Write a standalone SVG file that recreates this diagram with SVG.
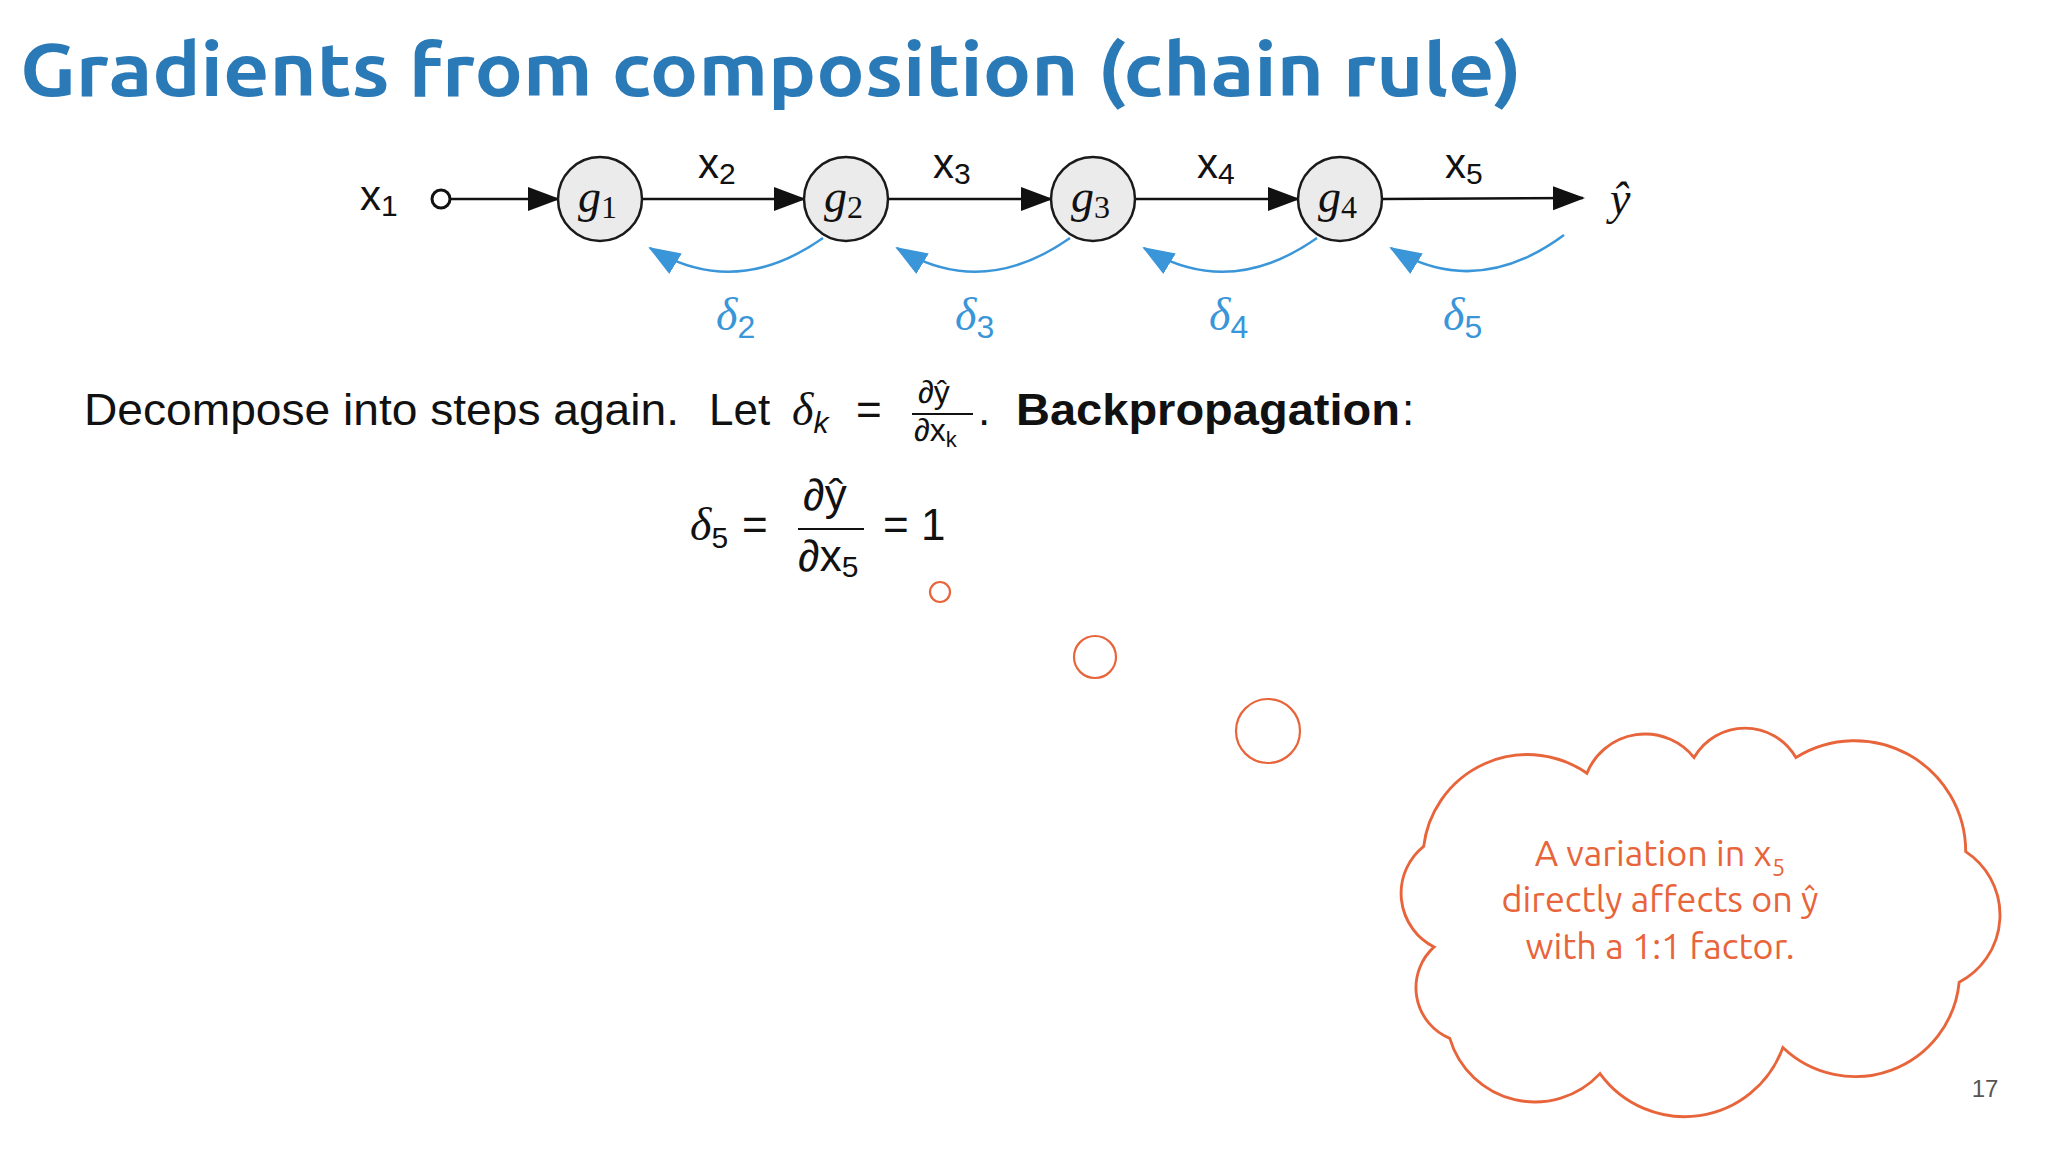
<svg xmlns="http://www.w3.org/2000/svg" width="2048" height="1152" viewBox="0 0 2048 1152">
<style>
.t{font-family:"Liberation Sans","DejaVu Sans",sans-serif;fill:#111}
.g{font-family:"Liberation Serif",serif;font-style:italic;font-size:46px;fill:#111}
.node{fill:#ebebeb;stroke:#1a1a1a;stroke-width:2.5}
.fw{stroke:#111;stroke-width:2.5;fill:none}
.bw{stroke:#3a96d8;stroke-width:2.5;fill:none}
.d{font-family:"Liberation Serif",serif;font-style:italic;font-size:46px;fill:#3a96d8}
.o{fill:none;stroke:#e8643a;stroke-width:2.2}
</style>
<defs>
<marker id="ab" markerUnits="userSpaceOnUse" markerWidth="34" markerHeight="28" refX="30" refY="12" orient="auto"><path d="M0,0 L32,12 L0,24 Z" fill="#111"/></marker>
<marker id="ablue" markerUnits="userSpaceOnUse" markerWidth="34" markerHeight="28" refX="30" refY="12" orient="auto"><path d="M0,0 L32,12 L0,24 Z" fill="#3a96d8"/></marker>
</defs>
<rect width="2048" height="1152" fill="#fff"/>
<text x="20" y="96" font-family="Ubuntu,'Open Sans',sans-serif" font-weight="700" font-size="74" fill="#2a7ab8" textLength="1502" lengthAdjust="spacingAndGlyphs">Gradients from composition (chain rule)</text>

<g id="connectors">
<circle cx="441" cy="199" r="9" fill="#fff" stroke="#111" stroke-width="3"/>
<line class="fw" x1="450" y1="199" x2="558" y2="199" marker-end="url(#ab)"/>
<line class="fw" x1="642" y1="199" x2="804" y2="199" marker-end="url(#ab)"/>
<line class="fw" x1="888" y1="199" x2="1051" y2="199" marker-end="url(#ab)"/>
<line class="fw" x1="1135" y1="199" x2="1298" y2="199" marker-end="url(#ab)"/>
<line class="fw" x1="1382" y1="199" x2="1583" y2="198" marker-end="url(#ab)"/>
<path class="bw" d="M823,238 Q735,300 650,248" marker-end="url(#ablue)"/>
<path class="bw" d="M1070,238 Q982,300 897,248" marker-end="url(#ablue)"/>
<path class="bw" d="M1317,238 Q1229,300 1144,248" marker-end="url(#ablue)"/>
<path class="bw" d="M1564,235 Q1476,300 1391,248" marker-end="url(#ablue)"/>
</g>

<g id="x1"><text class="t" x="360" y="210" font-size="42">x<tspan font-size="30" dy="6">1</tspan></text></g>
<g id="g1"><circle class="node" cx="600" cy="199" r="42"/><text class="g" x="578" y="212">g<tspan font-style="normal" font-size="32" dy="6">1</tspan></text></g>
<g id="g2"><circle class="node" cx="846" cy="199" r="42"/><text class="g" x="824" y="212">g<tspan font-style="normal" font-size="32" dy="6">2</tspan></text></g>
<g id="g3"><circle class="node" cx="1093" cy="199" r="42"/><text class="g" x="1071" y="212">g<tspan font-style="normal" font-size="32" dy="6">3</tspan></text></g>
<g id="g4"><circle class="node" cx="1340" cy="199" r="42"/><text class="g" x="1318" y="212">g<tspan font-style="normal" font-size="32" dy="6">4</tspan></text></g>
<g id="yhat"><text class="g" x="1610" y="214">ŷ</text></g>

<g id="labels">
<text class="t" x="698" y="178" font-size="42">x<tspan font-size="30" dy="6">2</tspan></text>
<text class="t" x="933" y="178" font-size="42">x<tspan font-size="30" dy="6">3</tspan></text>
<text class="t" x="1197" y="178" font-size="42">x<tspan font-size="30" dy="6">4</tspan></text>
<text class="t" x="1445" y="178" font-size="42">x<tspan font-size="30" dy="6">5</tspan></text>
<text class="d" x="716" y="330">δ<tspan font-style="normal" font-family="Liberation Sans" font-size="32" dy="8">2</tspan></text>
<text class="d" x="955" y="330">δ<tspan font-style="normal" font-family="Liberation Sans" font-size="32" dy="8">3</tspan></text>
<text class="d" x="1209" y="330">δ<tspan font-style="normal" font-family="Liberation Sans" font-size="32" dy="8">4</tspan></text>
<text class="d" x="1443" y="330">δ<tspan font-style="normal" font-family="Liberation Sans" font-size="32" dy="8">5</tspan></text>
</g>

<g id="body">
<text class="t" x="84" y="425" font-size="44" textLength="595" lengthAdjust="spacingAndGlyphs">Decompose into steps again.</text>
<text class="t" x="709" y="425" font-size="44">Let</text>
<text x="792" y="425" font-family="Liberation Serif" font-style="italic" font-size="46" fill="#111">δ<tspan font-family="Liberation Sans" font-size="30" dy="8">k</tspan></text>
<text class="t" x="856" y="425" font-size="44">=</text>
<text class="t" x="918" y="403" font-size="32">∂ŷ</text>
<line x1="912" y1="414" x2="973" y2="414" stroke="#111" stroke-width="2"/>
<text class="t" x="914" y="441" font-size="32">∂x<tspan font-size="22" dy="6">k</tspan></text>
<text class="t" x="978" y="425" font-size="44">.</text>
<text class="t" x="1016" y="425" font-size="44" font-weight="700" textLength="384" lengthAdjust="spacingAndGlyphs">Backpropagation</text>
<text class="t" x="1402" y="425" font-size="44">:</text>

<text x="690" y="540" font-family="Liberation Serif" font-style="italic" font-size="46" fill="#111">δ<tspan font-family="Liberation Sans" font-style="normal" font-size="30" dy="8">5</tspan></text>
<text class="t" x="742" y="540" font-size="44">=</text>
<text class="t" x="803" y="510" font-size="44">∂ŷ</text>
<line x1="798" y1="529" x2="864" y2="529" stroke="#111" stroke-width="2"/>
<text class="t" x="798" y="571" font-size="44">∂x<tspan font-size="30" dy="6">5</tspan></text>
<text class="t" x="883" y="540" font-size="44">= 1</text>
</g>

<g id="thought">
<circle class="o" cx="940" cy="592" r="10"/>
<circle class="o" cx="1095" cy="657" r="21"/>
<circle class="o" cx="1268" cy="731" r="32"/>
<g transform="scale(1.30612)">
<path class="o" stroke-width="1.7" d="M1098,725 A46,46 0 0 1 1090,648 A80,80 0 0 1 1215,592 A48,48 0 0 1 1297,580 A45,45 0 0 1 1375,580 A85,85 0 0 1 1505,652 A58,58 0 0 1 1500,752 A80,80 0 0 1 1365,802 A80,80 0 0 1 1225,822 A68,68 0 0 1 1110,795 A42,42 0 0 1 1098,725 Z"/>
</g>
<text x="1660" y="866" text-anchor="middle" font-family="Ubuntu,'Open Sans',sans-serif" font-size="36" fill="#e8643a">A variation in x<tspan font-size="24" dy="10">5</tspan></text>
<text x="1660" y="912" text-anchor="middle" font-family="Ubuntu,'Open Sans',sans-serif" font-size="36" fill="#e8643a">directly affects on ŷ</text>
<text x="1660" y="959" text-anchor="middle" font-family="Ubuntu,'Open Sans',sans-serif" font-size="36" fill="#e8643a">with a 1:1 factor.</text>
</g>
<text x="1985" y="1097" text-anchor="middle" font-family="Liberation Sans,sans-serif" font-size="24" fill="#555">17</text>
</svg>
